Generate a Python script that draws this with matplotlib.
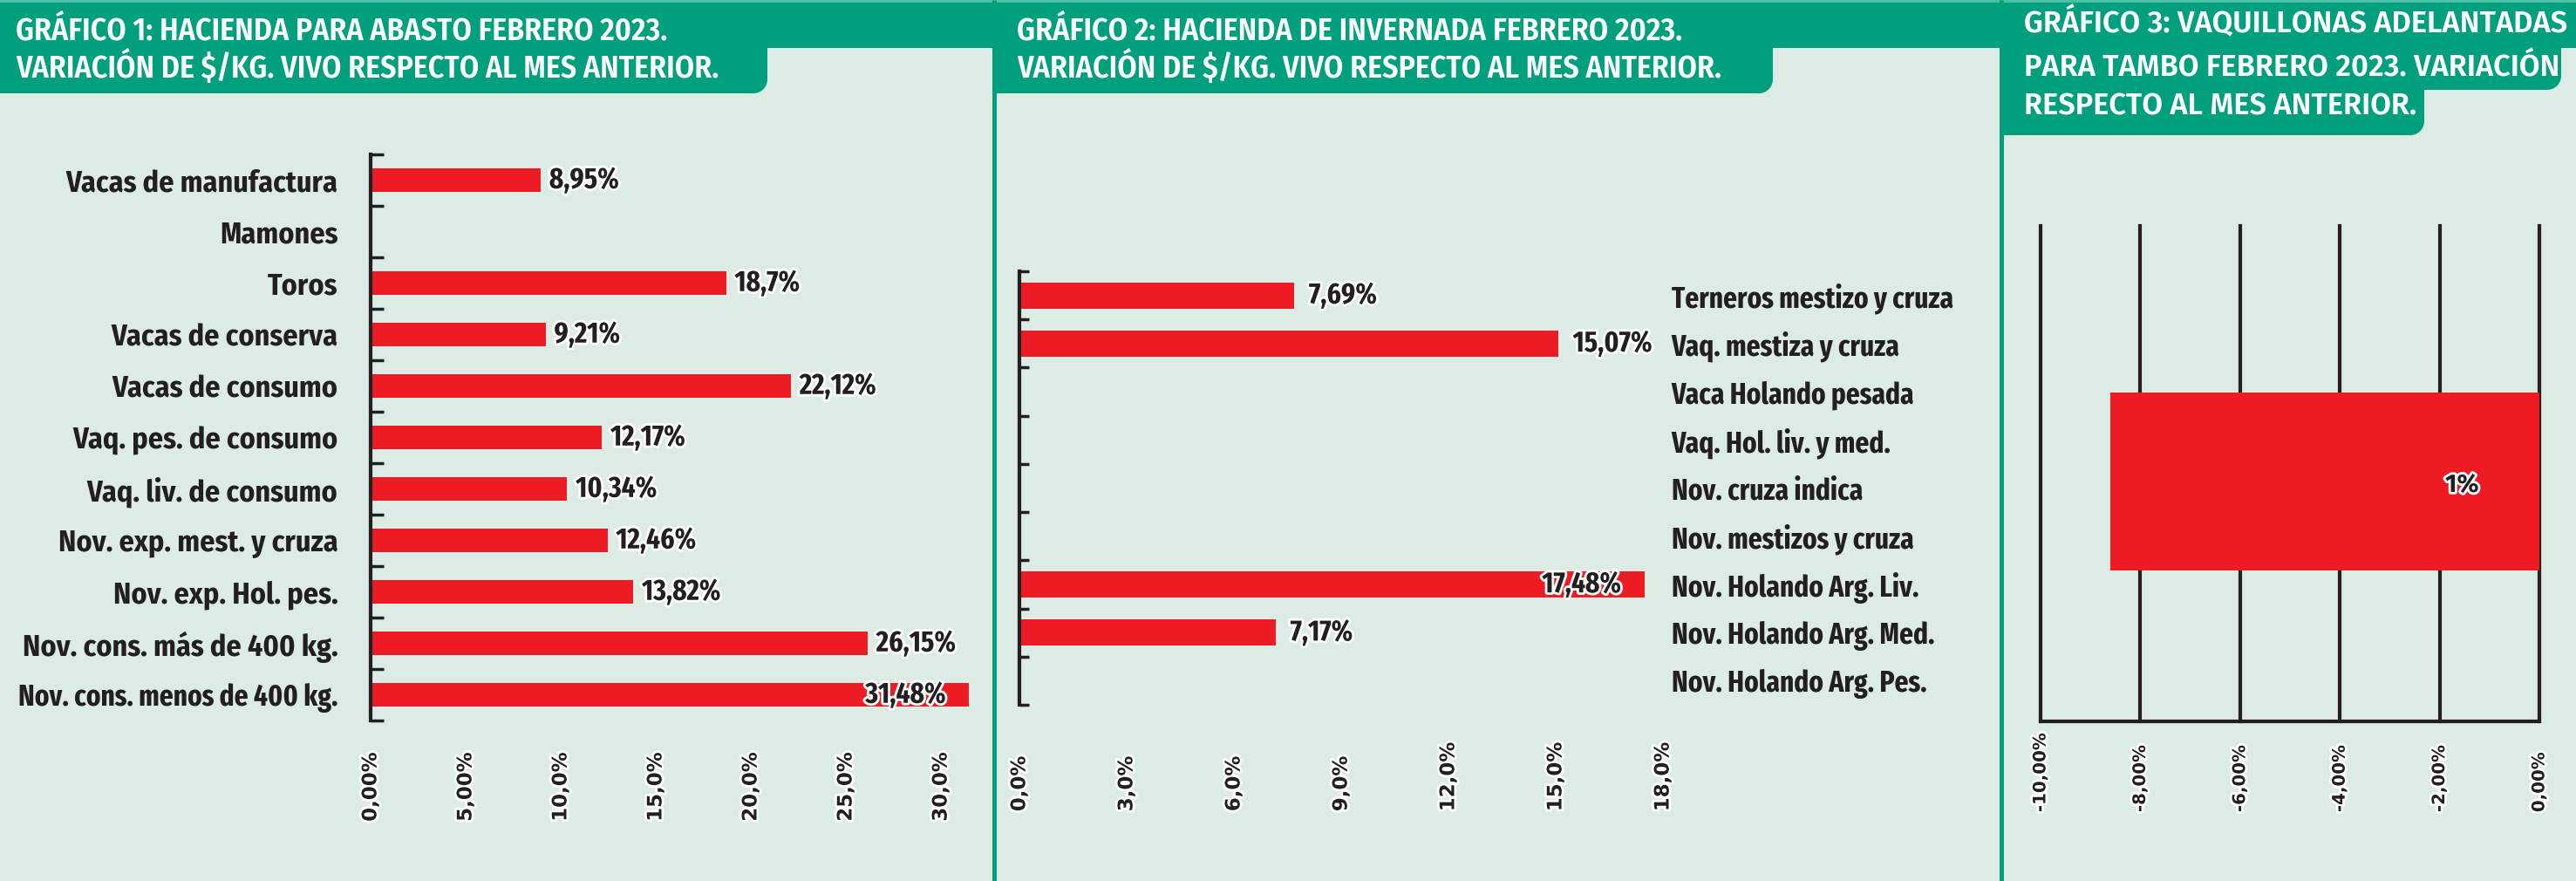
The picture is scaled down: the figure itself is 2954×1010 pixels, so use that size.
import os
import numpy as np
import matplotlib
matplotlib.use('Agg')
import matplotlib.pyplot as plt
from matplotlib import font_manager as fm
from matplotlib import patheffects as pe
from matplotlib.patches import Rectangle, Circle

# --- datos ---
cats1 = ['Vacas de manufactura', 'Mamones', 'Toros', 'Vacas de conserva',
         'Vacas de consumo', 'Vaq. pes. de consumo', 'Vaq. liv. de consumo',
         'Nov. exp. mest. y cruza', 'Nov. exp. Hol. pes.',
         'Nov. cons. más de 400 kg.', 'Nov. cons. menos de 400 kg.']
vals1 = [8.95, np.nan, 18.7, 9.21, 22.12, 12.17, 10.34, 12.46, 13.82, 26.15, 31.48]
ticks1 = [0, 5, 10, 15, 20, 25, 30]
ticklab1 = ['0,00%', '5,00%', '10,0%', '15,0%', '20,0%', '25,0%', '30,0%']

cats2 = ['Terneros mestizo y cruza', 'Vaq. mestiza y cruza', 'Vaca Holando pesada',
         'Vaq. Hol. liv. y med.', 'Nov. cruza indica', 'Nov. mestizos y cruza',
         'Nov. Holando Arg. Liv.', 'Nov. Holando Arg. Med.', 'Nov. Holando Arg. Pes.']
vals2 = [7.69, 15.07, np.nan, np.nan, np.nan, np.nan, 17.48, 7.17, np.nan]
ticks2 = [0, 3, 6, 9, 12, 15, 18]
ticklab2 = ['0,0%', '3,0%', '6,0%', '9,0%', '12,0%', '15,0%', '18,0%']

vals3 = [-8.6]
lab3 = ['1%']
ticks3 = [-10, -8, -6, -4, -2, 0]
ticklab3 = ['-10,00%', '-8,00%', '-6,00%', '-4,00%', '-2,00%', '0,00%']

title1 = ['GRÁFICO 1: HACIENDA PARA ABASTO FEBRERO 2023.',
          'VARIACIÓN DE $/KG. VIVO RESPECTO AL MES ANTERIOR.']
title2 = ['GRÁFICO 2: HACIENDA DE INVERNADA FEBRERO 2023.',
          'VARIACIÓN DE $/KG. VIVO RESPECTO AL MES ANTERIOR.']
title3 = ['GRÁFICO 3: VAQUILLONAS ADELANTADAS',
          'PARA TAMBO FEBRERO 2023. VARIACIÓN',
          'RESPECTO AL MES ANTERIOR.']

BG = '#DDEBE5'
GREEN = '#00A07F'
RED = '#ED1C24'
DARK = '#231F20'
W, H = 2954, 1010

# fuentes condensadas si existen
FILES = {os.path.basename(f.fname).lower(): f.fname for f in fm.fontManager.ttflist}

def find_font(names):
    for n in names:
        if n.lower() in FILES:
            return fm.FontProperties(fname=FILES[n.lower()])
    return fm.FontProperties(family='DejaVu Sans', weight='bold')

xcond = find_font(['FiraSansExtraCondensed-Bold.ttf', 'FiraSansCondensed-Bold.ttf',
                   'DejaVuSansCondensed-Bold.ttf'])
bcond = find_font(['FiraSansCondensed-Bold.ttf', 'FiraSansExtraCondensed-Bold.ttf',
                   'DejaVuSansCondensed-Bold.ttf'])
tcond = find_font(['FiraSansCondensed-SemiBold.ttf', 'FiraSansCondensed-Bold.ttf',
                   'DejaVuSansCondensed-Bold.ttf'])
tnorm = find_font(['FiraSans-SemiBold.ttf', 'FiraSansCondensed-SemiBold.ttf',
                   'DejaVuSansCondensed-Bold.ttf'])
fbold = find_font(['FiraSans-Bold.ttf', 'DejaVuSans-Bold.ttf'])

fig = plt.figure(figsize=(W / 100, H / 100), dpi=100)
renderer = fig.canvas.get_renderer()

def fitted(base, text, target, cap):
    fp = base.copy()
    fp.set_size(20)
    t = fig.text(0, 0, text, fontproperties=fp)
    w = t.get_window_extent(renderer).width
    t.remove()
    fp.set_size(min(20 * target / w, cap))
    return fp

# etiquetas de categoria: se comprimen solo las que no entran
def label_fonts(ax, size, maxw, first, second):
    for lab in ax.get_yticklabels():
        for base in [first, second]:
            fp = base.copy()
            fp.set_size(size)
            lab.set_fontproperties(fp)
            w = lab.get_window_extent(renderer).width
            if w <= maxw:
                break
        if w > maxw:
            fp.set_size(size * maxw / w)
            lab.set_fontproperties(fp)

# fondo y cabeceras
bg = fig.add_axes([0, 0, 1, 1])
bg.set_xlim(0, W)
bg.set_ylim(H, 0)
bg.axis('off')
bg.add_patch(Rectangle((0, 0), W, H, color=BG, lw=0))

def tab(x0, x1, y1, r=16):
    bg.add_patch(Rectangle((x0, 0), x1 - x0, y1 - r, color=GREEN, lw=0))
    bg.add_patch(Rectangle((x0, 0), x1 - x0 - r, y1, color=GREEN, lw=0))
    bg.add_patch(Circle((x1 - r, y1 - r), r, color=GREEN, lw=0))

bg.add_patch(Rectangle((0, 0), W, 55, color=GREEN, lw=0))
tab(0, 880, 107)
tab(1140, 2033, 107)
tab(2293, 2937, 103)
tab(2293, 2780, 155)
bg.add_patch(Rectangle((0, 0), W, 3, color='#4CBFA4', lw=0))
for xs in [1140, 2295]:
    bg.plot([xs, xs], [0, H], color=GREEN, lw=3.6, solid_capstyle='butt')

fp_t1 = fitted(tcond, title1[1], 807, 26)
fp_t2 = fitted(tcond, title2[1], 810, 26)
fp_t3 = fitted(tnorm, title3[0], 621, 25)
for line, yb in zip(title1, [45, 89]):
    bg.text(18, yb, line, fontproperties=fp_t1, color='white', va='baseline')
for line, yb in zip(title2, [45, 89]):
    bg.text(1166, yb, line, fontproperties=fp_t2, color='white', va='baseline')
for line, yb in zip(title3, [37, 87, 132]):
    bg.text(2321, yb, line, fontproperties=fp_t3, color='white', va='baseline')

def add_ax(x0, x1, ytop, ybot):
    ax = fig.add_axes([x0 / W, 1 - ybot / H, (x1 - x0) / W, (ybot - ytop) / H])
    ax.set_facecolor('none')
    for s in ax.spines.values():
        s.set_visible(False)
    return ax

stroke = [pe.withStroke(linewidth=4, foreground='white')]
fp_val = fitted(xcond, '22,12%', 88, 26)

def tick_font(ax, va):
    for lab in ax.get_xticklabels():
        lab.set_path_effects(stroke)
        lab.set_va(va)

def hbars(ax, cats, vals, xmax, height, gap):
    y = np.arange(len(cats))
    v = np.array(vals)
    ok = ~np.isnan(v)
    ax.barh(y[ok], v[ok], height=height, color=RED)
    for yi, vi in zip(y[ok], v[ok]):
        txt = f'{vi:g}'.replace('.', ',') + '%'
        if vi > 0.9 * xmax:
            ax.annotate(txt, (vi, yi), xytext=(-19, 0), textcoords='offset points',
                        ha='right', va='center', fontproperties=fp_val, color=DARK,
                        path_effects=stroke)
        else:
            ax.annotate(txt, (vi, yi), xytext=(gap, 0), textcoords='offset points',
                        ha='left', va='center', fontproperties=fp_val, color=DARK,
                        path_effects=stroke)
    ax.set_xlim(0, xmax)
    ax.set_ylim(len(cats) - 0.5, -0.5)
    ax.spines['left'].set_visible(True)
    ax.spines['left'].set_linewidth(3)
    ax.spines['left'].set_color(DARK)
    ax.set_yticks(y)
    ax.set_yticks(np.arange(len(cats) + 1) - 0.5, minor=True)
    return y

# Gráfico 1
ax1 = add_ax(425, 425 + 32 * 21.8, 177, 826)
hbars(ax1, cats1, vals1, 32, 0.47, 7)
ax1.set_yticklabels(cats1, color=DARK)
ax1.tick_params(axis='y', which='major', length=0, pad=27)
ax1.tick_params(axis='y', which='minor', direction='in', length=11, width=2.5, color=DARK)
label_fonts(ax1, 24.5, 369, bcond, xcond)
ax1.set_xticks(ticks1)
ax1.set_xticklabels(ticklab1, rotation=90, fontsize=16.5, fontweight='bold',
                    family='DejaVu Sans', color=DARK)
ax1.tick_params(axis='x', length=0, pad=26)
tick_font(ax1, 'top')

# Gráfico 2
ax2 = add_ax(1169, 1169 + 18 * 41, 311, 808)
hbars(ax2, cats2, vals2, 18, 0.54, 12)
ax2.set_yticklabels(cats2, color=DARK)
ax2.tick_params(axis='y', which='major', length=0, left=False, labelleft=False,
                right=False, labelright=True, pad=7)
ax2.tick_params(axis='y', which='minor', direction='in', length=8, width=2.5,
                color=DARK, left=True, right=False)
label_fonts(ax2, 24.5, 340, xcond, xcond)
ax2.set_xticks(ticks2)
ax2.set_xticklabels(ticklab2, rotation=90, fontsize=16.5, fontweight='bold',
                    family='DejaVu Sans', color=DARK)
ax2.tick_params(axis='x', length=0, pad=88)
tick_font(ax2, 'bottom')

# Gráfico 3
ax3 = add_ax(2340, 2912, 259, 827)
ax3.barh([0], vals3, height=0.358, color=RED, zorder=3)
ax3.set_xlim(-10, 0)
ax3.set_ylim(-0.484, 0.516)
ax3.set_xticks(ticks3)
ax3.grid(axis='x', color=DARK, lw=3)
ax3.set_axisbelow(True)
for gl in ax3.get_xgridlines():
    gl.set_clip_on(False)
ax3.spines['bottom'].set_visible(True)
ax3.spines['bottom'].set_linewidth(3)
ax3.spines['bottom'].set_color(DARK)
ax3.set_yticks([])
ax3.set_xticklabels(ticklab3, rotation=90, fontsize=14.3, fontweight='bold',
                    family='DejaVu Sans', color=DARK)
ax3.tick_params(axis='x', length=0, pad=75)
tick_font(ax3, 'bottom')
fp_one = fbold.copy()
fp_one.set_size(21)
ax3.annotate(lab3[0], (0, 0), xytext=(-50, -3), textcoords='offset points',
             ha='right', va='center', fontproperties=fp_one, color=DARK,
             path_effects=stroke, zorder=4)

fig.savefig('out.png', dpi=100)
